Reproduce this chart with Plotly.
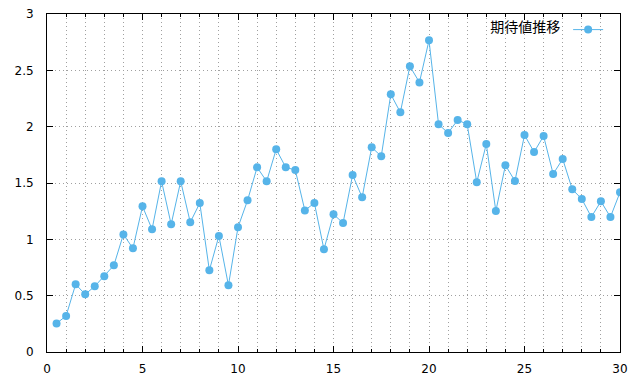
import plotly.graph_objects as go

x_vals = [i * 0.5 for i in range(1, 61)]
y_vals = [0.254, 0.320, 0.601, 0.512, 0.583, 0.672, 0.769, 1.044, 0.920, 1.293,
          1.089, 1.515, 1.133, 1.515, 1.151, 1.322, 0.725, 1.030, 0.592, 1.107,
          1.346, 1.639, 1.515, 1.799, 1.639, 1.615, 1.257, 1.322, 0.911, 1.222,
          1.145, 1.571, 1.373, 1.817, 1.737, 2.287, 2.127, 2.536, 2.393, 2.766,
          2.021, 1.944, 2.059, 2.021, 1.506, 1.846, 1.251, 1.657, 1.518, 1.926,
          1.775, 1.917, 1.580, 1.713, 1.444, 1.358, 1.198, 1.337, 1.198, 1.417]
series_name = "期待値推移"

color = "#56B4E9"
grid_color = "#a0a0a0"
grid_dash = "1px,3px"

fig = go.Figure()
fig.add_trace(go.Scatter(
    x=x_vals, y=y_vals, mode="lines+markers", name=" ",
    line=dict(color=color, width=1),
    marker=dict(color=color, size=8),
    showlegend=True,
))

axis_common = dict(
    showline=True, linecolor="black", linewidth=1, mirror="ticks",
    ticks="inside", ticklen=6, tickcolor="black",
    showgrid=True, gridcolor=grid_color, griddash=grid_dash, gridwidth=1,
    zeroline=False, automargin=False,
    tickfont=dict(family="DejaVu Sans", size=12, color="black"),
)

fig.update_xaxes(range=[0, 30], dtick=5, tick0=0, ticklabelstandoff=6,
                 minor=dict(dtick=1, ticks="inside", ticklen=3, tickcolor="black",
                            showgrid=True, gridcolor=grid_color, griddash=grid_dash),
                 **axis_common)
fig.update_yaxes(range=[0, 3], dtick=0.5, tick0=0, ticklabelstandoff=10, **axis_common)

fig.update_layout(
    width=640, height=384,
    margin=dict(l=47, r=20, t=14, b=32),
    plot_bgcolor="white", paper_bgcolor="white",
    legend=dict(
        x=0.995, y=1.0, xanchor="right", yanchor="top",
        bgcolor="rgba(255,255,255,0)",
        title=dict(text=series_name, side="left",
                   font=dict(family="Noto Sans CJK JP", size=14, color="black")),
        font=dict(family="Noto Sans CJK JP", size=14, color="black"),
        itemwidth=30,
    ),
)

fig.write_html("out.html")
